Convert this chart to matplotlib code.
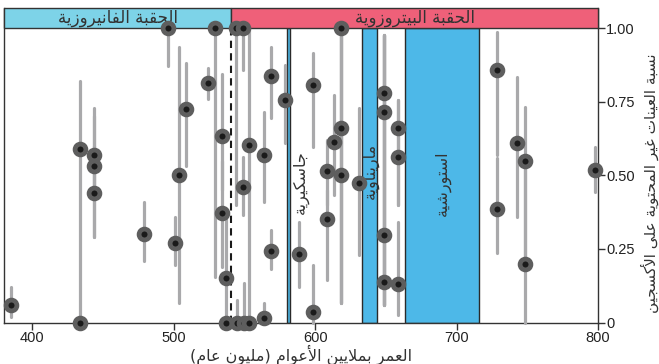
import matplotlib.pyplot as plt
from matplotlib.patches import Rectangle

# ---------- data ----------
age = [385, 434, 434, 444, 444, 444, 479, 496, 501, 504, 509, 524, 529, 534, 534,
       537, 537, 544, 544.5, 549, 549, 549.5, 553.6, 553.6, 563.6, 563.6, 568.7, 568.7,
       578.8, 588.9, 598.6, 598.6, 608.5, 608.5, 613.7, 618.6, 618.6, 618.6, 631.3,
       648.5, 648.5, 648.5, 648.5, 658.4, 658.4, 658.4, 728.4, 728.4, 743, 748.2, 748.2, 797.9]
frac = [0.06, 0.59, 0.0, 0.57, 0.53, 0.44, 0.30, 1.0, 0.27, 0.50, 0.725, 0.815, 1.0, 0.633, 0.371,
        0.15, 0.0, 1.0, 0.0, 1.0, 0.461, 0.0, 0.603, 0.0, 0.568, 0.016, 0.837, 0.244,
        0.757, 0.231, 0.806, 0.037, 0.516, 0.353, 0.612, 1.0, 0.662, 0.50, 0.473,
        0.778, 0.716, 0.297, 0.139, 0.662, 0.562, 0.130, 0.857, 0.384, 0.611, 0.547, 0.199, 0.519]
lo = [0.02, 0.0, 0.0, 0.45, 0.29, 0.29, 0.21, 0.87, 0.195, 0.065, 0.53, 0.76, 0.156, 0.45, 0.19,
      0.0, 0.0, 0.40, 0.0, 0.857, 0.365, 0.0, 0.0, 0.0, 0.41, 0.0, 0.694, 0.18,
      0.608, 0.122, 0.597, 0.0, 0.40, 0.144, 0.433, 0.065, 0.065, 0.065, 0.229,
      0.059, 0.059, 0.059, 0.059, 0.40, 0.40, 0.025, 0.569, 0.235, 0.357, 0.20, 0.0, 0.444]
hi = [0.12, 0.82, 0.0, 0.73, 0.70, 0.60, 0.41, 1.0, 0.357, 0.937, 0.88, 0.865, 1.0, 0.843, 0.55,
      0.35, 0.0, 1.0, 0.076, 1.0, 0.563, 0.133, 1.0, 0.0, 0.716, 0.067, 0.937, 0.314,
      0.874, 0.342, 0.914, 0.195, 0.62, 0.45, 0.772, 1.0, 1.0, 1.0, 0.727,
      0.976, 0.976, 0.976, 0.976, 0.755, 0.755, 0.342, 0.987, 0.557, 0.833, 0.731, 0.547, 0.597]

eras = ["الحقبة الفانيروزية", "الحقبة البيتروزوية"]
era_span = [(380, 540.6), (540.6, 800)]
glaciations = ["جاسكيرية", "ماريناوية", "استورشية"]
glac_span = [(580, 582.3), (633.4, 643.6), (663.4, 716)]
glac_label_pos = [(590, 0.478), (639, 0.514), (690.5, 0.473)]
cambrian_boundary = 540.6

xlabel = "العمر بملايين الأعوام (مليون عام)"
ylabel = "نسبة العينات غير المحتوية على الأكسجين"

# ---------- простая арабская сборка букв (matplotlib не умеет сам) ----------
FORMS = {
    'ا': (0xFE8D, 0xFE8E, None, None), 'أ': (0xFE83, 0xFE84, None, None),
    'ب': (0xFE8F, 0xFE90, 0xFE91, 0xFE92), 'ة': (0xFE93, 0xFE94, None, None),
    'ت': (0xFE95, 0xFE96, 0xFE97, 0xFE98), 'ج': (0xFE9D, 0xFE9E, 0xFE9F, 0xFEA0),
    'ح': (0xFEA1, 0xFEA2, 0xFEA3, 0xFEA4), 'د': (0xFEA9, 0xFEAA, None, None),
    'ر': (0xFEAD, 0xFEAE, None, None), 'ز': (0xFEAF, 0xFEB0, None, None),
    'س': (0xFEB1, 0xFEB2, 0xFEB3, 0xFEB4), 'ش': (0xFEB5, 0xFEB6, 0xFEB7, 0xFEB8),
    'ع': (0xFEC9, 0xFECA, 0xFECB, 0xFECC), 'غ': (0xFECD, 0xFECE, 0xFECF, 0xFED0),
    'ف': (0xFED1, 0xFED2, 0xFED3, 0xFED4), 'ق': (0xFED5, 0xFED6, 0xFED7, 0xFED8),
    'ك': (0xFED9, 0xFEDA, 0xFEDB, 0xFEDC), 'ل': (0xFEDD, 0xFEDE, 0xFEDF, 0xFEE0),
    'م': (0xFEE1, 0xFEE2, 0xFEE3, 0xFEE4), 'ن': (0xFEE5, 0xFEE6, 0xFEE7, 0xFEE8),
    'ه': (0xFEE9, 0xFEEA, 0xFEEB, 0xFEEC), 'و': (0xFEED, 0xFEEE, None, None),
    'ى': (0xFEEF, 0xFEF0, None, None), 'ي': (0xFEF1, 0xFEF2, 0xFEF3, 0xFEF4),
}
LAM_ALEF = {'ا': (0xFEFB, 0xFEFC), 'أ': (0xFEF7, 0xFEF8)}


def shape(text):
    units = []
    i = 0
    while i < len(text):
        c = text[i]
        if c == 'ل' and i + 1 < len(text) and text[i + 1] in LAM_ALEF:
            units.append(('LA', text[i + 1]))
            i += 2
        else:
            units.append(('C', c))
            i += 1

    def dual(u):
        return u[0] == 'C' and u[1] in FORMS and FORMS[u[1]][2] is not None

    def arabic(u):
        return u[0] == 'LA' or u[1] in FORMS

    out = []
    for k, u in enumerate(units):
        kind, c = u
        prev_j = k > 0 and dual(units[k - 1]) and arabic(u)
        if kind == 'LA':
            out.append(chr(LAM_ALEF[c][1 if prev_j else 0]))
            continue
        if c not in FORMS:
            out.append(c)
            continue
        next_j = dual(u) and k + 1 < len(units) and arabic(units[k + 1])
        iso, fin, ini, med = FORMS[c]
        if prev_j and next_j:
            g = med
        elif prev_j:
            g = fin
        elif next_j:
            g = ini
        else:
            g = iso
        out.append(chr(g))
    vis = ''.join(reversed(out))
    return vis.translate(str.maketrans('()', ')('))


plt.rcParams['font.family'] = ['Liberation Sans', 'DejaVu Sans']
AR = ['DejaVu Sans']
TXT = '#333333'

fig = plt.figure(figsize=(6.59, 3.64), dpi=100)
ax = fig.add_axes([0.006, 0.114, 0.9014, 0.864])

top = 1.068
ax.set_xlim(380, 800)
ax.set_ylim(0, top)

# полосы оледенений
for (a, b) in glac_span:
    ax.add_patch(Rectangle((a, 0), b - a, 1.0, facecolor='#4db8e8',
                           edgecolor='#2a2a2a', lw=1.0, zorder=1))
for name, (gx, gy) in zip(glaciations, glac_label_pos):
    ax.text(gx, gy, shape(name), rotation=90, ha='center', va='center',
            fontsize=11.5, color=TXT, family=AR, zorder=2)

# шапка с эрами
era_colors = ['#7dd3e8', '#ef6079']
for name, (a, b), col in zip(eras, era_span, era_colors):
    ax.add_patch(Rectangle((a, 1.0), b - a, top - 1.0, facecolor=col,
                           edgecolor='#333333', lw=1.0, zorder=3, clip_on=False))
    ax.text((a + b) / 2, (1.0 + top) / 2, shape(name), ha='center', va='center',
            fontsize=12, color=TXT, family=AR, zorder=4)

ax.plot([cambrian_boundary, cambrian_boundary], [0, 1.0], color='#1a1a1a',
        ls=(0, (3.5, 2.5)), lw=1.5, zorder=2)

# усы и точки
for x, y, l, h in zip(age, frac, lo, hi):
    if h > l:
        ax.plot([x, x], [l, h], color='#a9a9ab', lw=2.3, solid_capstyle='round',
                zorder=5, clip_on=False)
ax.plot(age, frac, ls='none', marker='o', ms=7.8, mfc='#1a1a1a', mec='#5e5e5e',
        mew=3.4, zorder=6, clip_on=False)

# оси
for s in ['left', 'right', 'bottom']:
    ax.spines[s].set_color('#333333')
    ax.spines[s].set_linewidth(1.0)
ax.spines['top'].set_visible(False)
ax.yaxis.tick_right()
ax.set_yticks([0, 0.25, 0.5, 0.75, 1.0])
ax.set_yticklabels(['0', '0.25', '0.50', '0.75', '1.00'])
ax.set_xticks([400, 500, 600, 700, 800])
ax.tick_params(axis='both', direction='out', length=5, width=1, color='#333333',
               labelsize=10.5, labelcolor='#222222', pad=1)
ax.tick_params(axis='y', left=False, right=True)

ax.set_xlabel(shape(xlabel), fontsize=11.5, color=TXT, family=AR, labelpad=0)
fig.text(650 / 659, 1 - 183 / 364, shape(ylabel), fontsize=11, color=TXT,
         family=AR, rotation=90, ha='center', va='center')

fig.savefig('out.png', dpi=100)
